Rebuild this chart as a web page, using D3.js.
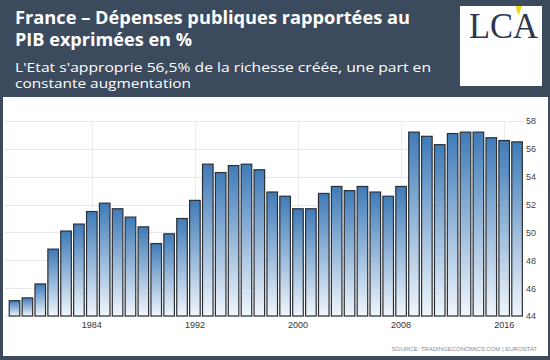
<!DOCTYPE html>
<html>
<head>
<meta charset="utf-8">
<script src="https://cdn.jsdelivr.net/npm/d3@7"></script>
<style>
  html, body { margin: 0; padding: 0; background: #3c4a5d; }
  svg { display: block; }
</style>
</head>
<body>
<script>
// ---- data ----
const years = d3.range(1978, 2018).map(String);
const values = [
  45.1, 45.3, 46.3, 48.8, 50.1, 50.6, 51.5, 52.1, 51.7, 51.1,
  50.4, 49.2, 49.9, 51.0, 52.3, 54.9, 54.3, 54.8, 54.9, 54.5,
  52.9, 52.6, 51.7, 51.7, 52.8, 53.3, 53.0, 53.3, 52.9, 52.6,
  53.3, 57.2, 56.9, 56.3, 57.1, 57.2, 57.2, 56.8, 56.6, 56.5
];
const xTickLabels = ["1984", "1992", "2000", "2008", "2016"];
const yTicks = [44, 46, 48, 50, 52, 54, 56, 58];
const titleLines = ["France – Dépenses publiques rapportées au", "PIB exprimées en %"];
const subtitleLines = ["L'Etat s'approprie 56,5% de la richesse créée, une part en", "constante augmentation"];
const sourceText = "SOURCE: TRADINGECONOMICS.COM | EUROSTAT";

const W = 550, H = 360;
const svg = d3.select("body").append("svg").attr("width", W).attr("height", H);

const defs = svg.append("defs");
const grad = defs.append("linearGradient").attr("id", "barGrad")
  .attr("x1", 0).attr("y1", 0).attr("x2", 0).attr("y2", 1);
grad.append("stop").attr("offset", "0%").attr("stop-color", "#3f7bb8");
grad.append("stop").attr("offset", "100%").attr("stop-color", "#f1f6fc");

// background
svg.append("rect").attr("width", W).attr("height", H).attr("fill", "#3c4a5d");
// white panel
svg.append("rect").attr("x", 3).attr("y", 97).attr("width", 545).attr("height", 259).attr("fill", "#ffffff");

// header text
const title = svg.append("g").attr("font-family", "'Open Sans', sans-serif")
  .attr("fill", "#ffffff");
title.append("text").attr("x", 15).attr("y", 24).attr("font-size", 18).attr("font-weight", "bold")
  .attr("textLength", 395).attr("lengthAdjust", "spacingAndGlyphs").text(titleLines[0]);
title.append("text").attr("x", 15).attr("y", 46).attr("font-size", 18).attr("font-weight", "bold")
  .attr("textLength", 177).attr("lengthAdjust", "spacingAndGlyphs").text(titleLines[1]);
title.append("text").attr("x", 15).attr("y", 72).attr("font-size", 13.5)
  .attr("textLength", 416).attr("lengthAdjust", "spacingAndGlyphs").text(subtitleLines[0]);
title.append("text").attr("x", 15).attr("y", 87.5).attr("font-size", 13.5)
  .attr("textLength", 176).attr("lengthAdjust", "spacingAndGlyphs").text(subtitleLines[1]);

// logo
const logo = svg.append("g");
logo.append("rect").attr("x", 460).attr("y", 6).attr("width", 82).attr("height", 80).attr("fill", "#ffffff");
logo.append("text").attr("x", 469).attr("y", 38).attr("font-family", "'Liberation Serif', serif")
  .attr("font-size", 35).attr("fill", "#2e3650")
  .attr("textLength", 69).attr("lengthAdjust", "spacingAndGlyphs").text("LCA");
logo.append("polygon").attr("points", "515.5,6 522,6 518.5,15.5").attr("fill", "#f2d41a");

// scales
const x = d3.scaleBand().domain(years).range([8.06, 523.5]).paddingInner(0.18).paddingOuter(0.09);
const y = d3.scaleLinear().domain([44, 58]).range([316, 121]);

// grid
const grid = svg.append("g");
grid.selectAll("line.h").data(yTicks).join("line").attr("class", "h")
  .attr("x1", 5).attr("x2", 523)
  .attr("y1", d => Math.round(y(d)) + 0.5).attr("y2", d => Math.round(y(d)) + 0.5)
  .attr("stroke", "#e8e8e8").attr("stroke-width", 1);
grid.selectAll("line.v").data(xTickLabels).join("line").attr("class", "v")
  .attr("x1", d => Math.round(x(d) + x.bandwidth() / 2) + 0.5)
  .attr("x2", d => Math.round(x(d) + x.bandwidth() / 2) + 0.5)
  .attr("y1", y(58)).attr("y2", y(44))
  .attr("stroke", "#ececec").attr("stroke-width", 1);

// bars
svg.append("g").selectAll("rect").data(values).join("rect")
  .attr("x", (d, i) => x(years[i]))
  .attr("width", x.bandwidth())
  .attr("y", d => y(d))
  .attr("height", d => y(44) - y(d))
  .attr("fill", "url(#barGrad)")
  .attr("stroke", "#2b2f36").attr("stroke-width", 1.2);

// x axis
const xAxis = d3.axisBottom(x).tickValues(xTickLabels).tickSize(0).tickPadding(0);
const gx = svg.append("g").attr("transform", "translate(0,322)").call(xAxis);
gx.select(".domain").remove();
gx.selectAll("text").attr("font-family", "'Liberation Sans', Arial, sans-serif")
  .attr("font-size", 9).attr("fill", "#333").attr("dy", "0.71em");

// y axis
const yAxis = d3.axisRight(y).tickValues(yTicks).tickSize(0).tickPadding(0);
const gy = svg.append("g").attr("transform", "translate(526,0)").call(yAxis);
gy.select(".domain").remove();
gy.selectAll("text").attr("font-family", "'Liberation Sans', Arial, sans-serif")
  .attr("font-size", 9).attr("fill", "#444");

// source
svg.append("text").attr("x", 537).attr("y", 351).attr("text-anchor", "end")
  .attr("font-family", "'Liberation Sans', Arial, sans-serif").attr("font-size", 6)
  .attr("fill", "#8a8a8a")
  .text(sourceText);
</script>
</body>
</html>
